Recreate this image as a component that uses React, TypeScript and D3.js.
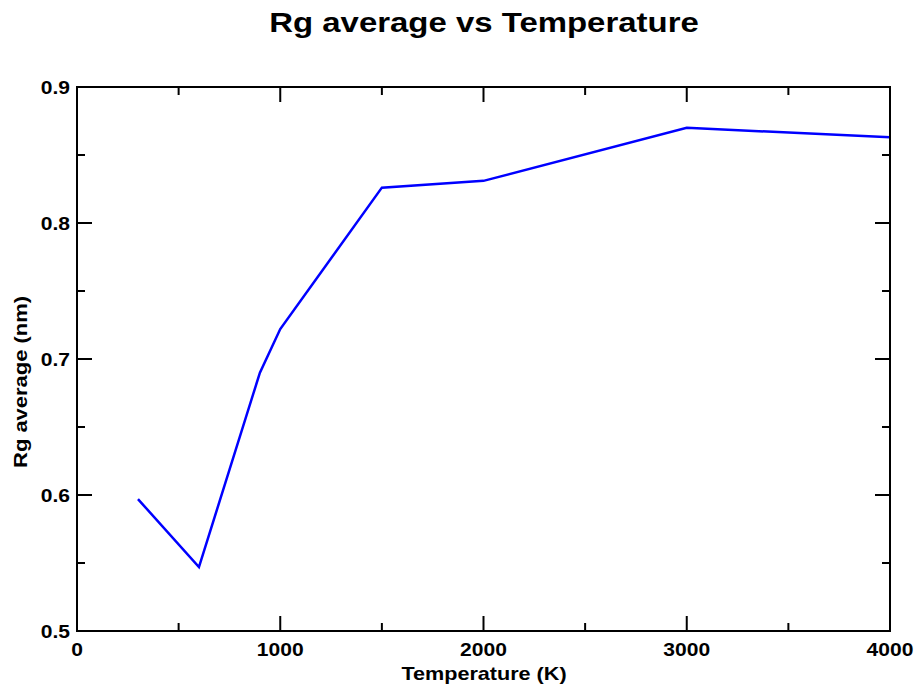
import React from "react";
import * as d3 from "d3";

const temperatures = [300, 600, 900, 1000, 1500, 2000, 3000, 4000];
const rgValues = [0.597, 0.547, 0.69, 0.722, 0.826, 0.831, 0.87, 0.863];
const xMajorTicks = [0, 1000, 2000, 3000, 4000];
const xMinorTicks = [500, 1500, 2500, 3500];
const yMajorTicks = [0.5, 0.6, 0.7, 0.8, 0.9];
const yMinorTicks = [0.55, 0.65, 0.75, 0.85];

const W = 918;
const H = 685;
const left = 77;
const right = 890;
const top = 87;
const bottom = 631;
const FONT = "'Liberation Sans', Arial, Helvetica, sans-serif";

function WideText({ x, y, size, anchor, children, rotate = 0, sx = 1.2 }: any) {
  return (
    <g transform={`translate(${x},${y}) rotate(${rotate}) scale(${sx},1)`}>
      <text
        x={0}
        y={0}
        fontFamily={FONT}
        fontWeight="bold"
        fontSize={size}
        textAnchor={anchor}
        fill="#000"
      >
        {children}
      </text>
    </g>
  );
}

export default function App() {
  const x = d3.scaleLinear().domain([0, 4000]).range([left, right]);
  const y = d3.scaleLinear().domain([0.5, 0.9]).range([bottom, top]);
  const line = d3
    .line<number>()
    .x((_, i) => x(temperatures[i]))
    .y((d) => y(d));

  const major = 15;
  const minor = 8;

  return (
    <svg
      width={W}
      height={H}
      style={{ position: "absolute", left: 0, top: 0, background: "#fff" }}
    >
      <rect x={0} y={0} width={W} height={H} fill="#fff" />
      <WideText x={484} y={32} size={27} anchor="middle" sx={1.22}>
        Rg average vs Temperature
      </WideText>

      <path
        d={line(rgValues) || ""}
        fill="none"
        stroke="#0000ff"
        strokeWidth={2.5}
        strokeLinejoin="miter"
      />

      <g stroke="#000" strokeWidth={2}>
        {xMajorTicks.map((t) => (
          <g key={"xm" + t}>
            <line x1={x(t)} x2={x(t)} y1={bottom} y2={bottom - major} />
            <line x1={x(t)} x2={x(t)} y1={top} y2={top + major} />
          </g>
        ))}
        {xMinorTicks.map((t) => (
          <g key={"xn" + t}>
            <line x1={x(t)} x2={x(t)} y1={bottom} y2={bottom - minor} />
            <line x1={x(t)} x2={x(t)} y1={top} y2={top + minor} />
          </g>
        ))}
        {yMajorTicks.map((t) => (
          <g key={"ym" + t}>
            <line x1={left} x2={left + major} y1={y(t)} y2={y(t)} />
            <line x1={right} x2={right - major} y1={y(t)} y2={y(t)} />
          </g>
        ))}
        {yMinorTicks.map((t) => (
          <g key={"yn" + t}>
            <line x1={left} x2={left + minor} y1={y(t)} y2={y(t)} />
            <line x1={right} x2={right - minor} y1={y(t)} y2={y(t)} />
          </g>
        ))}
        <rect
          x={left}
          y={top}
          width={right - left}
          height={bottom - top}
          fill="none"
        />
      </g>

      {xMajorTicks.map((t) => (
        <WideText key={"xl" + t} x={x(t)} y={656} size={18} anchor="middle" sx={1.17}>
          {String(t)}
        </WideText>
      ))}
      {yMajorTicks.map((t) => (
        <WideText key={"yl" + t} x={70} y={y(t) + 7} size={18} anchor="end" sx={1.17}>
          {d3.format(".1f")(t)}
        </WideText>
      ))}

      <WideText x={484} y={680} size={18} anchor="middle" sx={1.2}>
        Temperature (K)
      </WideText>
      <WideText x={27} y={382} size={18} anchor="middle" rotate={-90} sx={1.22}>
        Rg average (nm)
      </WideText>
    </svg>
  );
}
